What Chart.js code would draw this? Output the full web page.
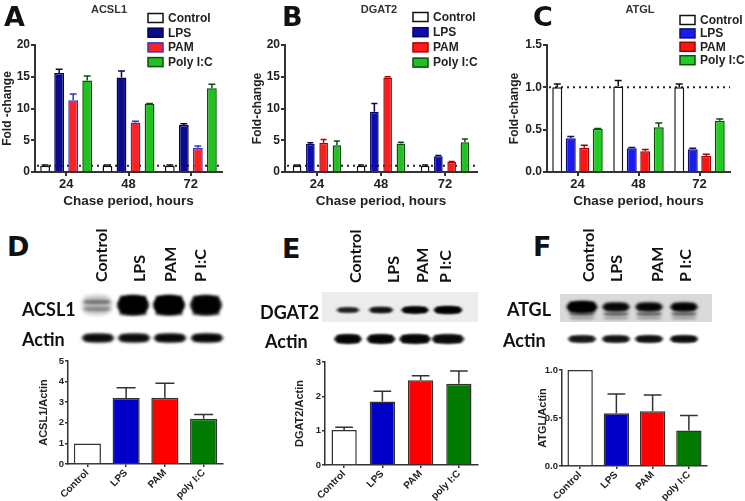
<!DOCTYPE html>
<html>
<head>
<meta charset="utf-8">
<script src="https://cdn.jsdelivr.net/npm/chart.js@4.4.1/dist/chart.umd.min.js"></script>
<style>
  html, body { margin: 0; padding: 0; background: #fff; }
  #fig { position: relative; width: 745px; height: 501px; overflow: hidden; }
  #fig canvas { position: absolute; }
  .t { position: absolute; white-space: nowrap; line-height: 1; color: #111; }
  .letter { font: bold 27px "DejaVu Sans", sans-serif; }
  .head { font: bold 11px "Liberation Sans", Arial, sans-serif; color: #333; transform: translateX(-50%); }
  .blot { font: bold 18px Lato, sans-serif; }
  .lane { font: bold 16px Lato, sans-serif; transform-origin: 0 0; transform: rotate(-90deg); }
</style>
</head>
<body>
<div id="fig">
  <canvas id="blots" width="745" height="70" style="left:0;top:280px"></canvas>
  <canvas id="cA" width="245" height="210" style="left:0;top:0"></canvas>
  <canvas id="cB" width="250" height="210" style="left:245px;top:0"></canvas>
  <canvas id="cC" width="250" height="210" style="left:495px;top:0"></canvas>
  <canvas id="cD" width="245" height="151" style="left:0;top:350px"></canvas>
  <canvas id="cE" width="250" height="151" style="left:245px;top:350px"></canvas>
  <canvas id="cF" width="250" height="151" style="left:495px;top:350px"></canvas>

  <div class="t letter" style="left:4px;top:1px">A</div>
  <div class="t letter" style="left:282px;top:1px">B</div>
  <div class="t letter" style="left:533px;top:1px">C</div>
  <div class="t letter" style="left:7px;top:231px">D</div>
  <div class="t letter" style="left:282px;top:233px">E</div>
  <div class="t letter" style="left:533px;top:231px">F</div>

  <div class="t head" style="left:109px;top:3px">ACSL1</div>
  <div class="t head" style="left:379px;top:3px">DGAT2</div>
  <div class="t head" style="left:640px;top:3px">ATGL</div>

  <div class="t blot" style="left:22px;top:298px">ACSL1</div>
  <div class="t blot" style="left:22px;top:328px">Actin</div>
  <div class="t blot" style="left:260px;top:301px">DGAT2</div>
  <div class="t blot" style="left:265px;top:330px">Actin</div>
  <div class="t blot" style="left:507px;top:298px">ATGL</div>
  <div class="t blot" style="left:503px;top:329px">Actin</div>

  <div class="t lane" style="left:91px;top:282px">Control</div>
  <div class="t lane" style="left:129px;top:282px">LPS</div>
  <div class="t lane" style="left:160px;top:282px">PAM</div>
  <div class="t lane" style="left:190px;top:282px">P I:C</div>
  <div class="t lane" style="left:345px;top:283px">Control</div>
  <div class="t lane" style="left:383px;top:283px">LPS</div>
  <div class="t lane" style="left:412px;top:283px">PAM</div>
  <div class="t lane" style="left:435px;top:283px">P I:C</div>
  <div class="t lane" style="left:578px;top:282px">Control</div>
  <div class="t lane" style="left:606px;top:282px">LPS</div>
  <div class="t lane" style="left:647px;top:282px">PAM</div>
  <div class="t lane" style="left:675px;top:282px">P I:C</div>
</div>

<script>
// ---- data ----
const chaseHours = ['24', '48', '72'];
const treatments = ['Control', 'LPS', 'PAM', 'Poly I:C'];

// one row per treatment, one value per chase time
const acsl1Fold = [[1.0, 1.0, 1.0], [15.6, 14.9, 7.4], [11.3, 7.8, 3.8], [14.4, 10.7, 13.2]];
const acsl1FoldErr = [[0.1, 0.1, 0.1], [0.6, 1.0, 0.2], [1.0, 0.2, 0.3], [0.7, 0.1, 0.6]];
const dgat2Fold = [[1.0, 1.0, 1.0], [4.4, 9.5, 2.5], [4.6, 14.9, 1.6], [4.2, 4.5, 4.7]];
const dgat2FoldErr = [[0.1, 0.1, 0.1], [0.2, 1.3, 0.1], [0.5, 0.1, 0.05], [0.7, 0.2, 0.5]];
const atglFold = [[1.0, 1.01, 1.0], [0.40, 0.28, 0.27], [0.285, 0.245, 0.19], [0.51, 0.53, 0.605]];
const atglFoldErr = [[0.04, 0.07, 0.04], [0.02, 0.01, 0.01], [0.03, 0.02, 0.02], [0.005, 0.05, 0.02]];

const blotGroups = ['Control', 'LPS', 'PAM', 'poly I:C'];
const acsl1Ratio = [1.0, 3.2, 3.22, 2.2];
const acsl1RatioErr = [0, 0.5, 0.7, 0.2];
const dgat2Ratio = [1.02, 1.85, 2.47, 2.37];
const dgat2RatioErr = [0.08, 0.3, 0.13, 0.37];
const atglRatio = [1.0, 0.55, 0.57, 0.37];
const atglRatioErr = [0, 0.2, 0.17, 0.155];

// band darkness per lane (Control, LPS, PAM, P I:C)
const acsl1Band = [0.35, 0.97, 1.0, 0.9];
const acsl1Actin = [0.8, 0.8, 0.85, 0.85];
const dgat2Band = [0.65, 0.75, 0.95, 0.95];
const dgat2Actin = [0.85, 0.85, 0.85, 0.8];
const atglBand = [1.0, 0.85, 0.85, 0.9];
const atglActin = [0.7, 0.72, 0.75, 0.78];

// ---- chart helpers ----
const FONT = '"Liberation Sans", Arial, sans-serif';
const INK = '#222';
Chart.defaults.font.family = FONT;
Chart.defaults.color = INK;

const errBars = {
  id: 'errBars',
  afterDatasetsDraw(chart) {
    const ctx = chart.ctx;
    const y = chart.scales.y;
    chart.data.datasets.forEach((ds, di) => {
      if (!ds.errs) return;
      chart.getDatasetMeta(di).data.forEach((bar, i) => {
        const e = ds.errs[i];
        if (!e) return;
        const top = y.getPixelForValue(ds.data[i] + e);
        const half = bar.width * 0.35;
        const col = Array.isArray(ds.borderColor) ? ds.borderColor[i] : ds.borderColor;
        ctx.save();
        ctx.strokeStyle = col;
        ctx.lineWidth = 1.5;
        ctx.beginPath();
        ctx.moveTo(bar.x, bar.y);
        ctx.lineTo(bar.x, top);
        ctx.moveTo(bar.x - half, top);
        ctx.lineTo(bar.x + half, top);
        ctx.stroke();
        ctx.restore();
      });
    });
  }
};

const refLine = {
  id: 'refLine',
  beforeDatasetsDraw(chart, args, opts) {
    if (opts.value == null) return;
    const { ctx, chartArea } = chart;
    const py = chart.scales.y.getPixelForValue(opts.value);
    ctx.save();
    ctx.strokeStyle = INK;
    ctx.lineWidth = 2;
    ctx.setLineDash([2, 4]);
    ctx.beginPath();
    ctx.moveTo(chartArea.left + 2, py);
    ctx.lineTo(chartArea.right, py);
    ctx.stroke();
    ctx.restore();
  }
};

const boxLegend = {
  id: 'boxLegend',
  afterDraw(chart, args, opts) {
    if (opts.x == null) return;
    const ctx = chart.ctx;
    ctx.save();
    chart.data.datasets.forEach((ds, i) => {
      const y = opts.y + i * opts.pitch;
      ctx.fillStyle = ds.backgroundColor;
      ctx.fillRect(opts.x, y - 4.5, 15, 9);
      ctx.strokeStyle = ds.borderColor;
      ctx.lineWidth = 1.5;
      ctx.strokeRect(opts.x, y - 4.5, 15, 9);
      ctx.fillStyle = INK;
      ctx.font = 'bold 12px ' + FONT;
      ctx.textBaseline = 'middle';
      ctx.fillText(ds.label, opts.x + 20, y + 0.5);
    });
    ctx.restore();
  }
};

function axisX(o) {
  return {
    border: { color: '#333', width: o.lw },
    grid: { drawOnChartArea: false, offset: false, tickLength: o.tick || 4, color: '#333', lineWidth: o.lw },
    ticks: {
      color: INK, padding: o.tickPad != null ? o.tickPad : 1, autoSkip: false,
      minRotation: o.rot || 0, maxRotation: o.rot || 0,
      font: { size: o.tickSize, weight: 'bold' }
    },
    title: o.title ? {
      display: true, text: o.title, color: INK, padding: { top: 0, bottom: 1 },
      font: { size: 13.5, weight: 'bold' }
    } : { display: false },
    afterFit: s => { s.height = o.height; }
  };
}

function axisY(o) {
  return {
    min: 0, max: o.max,
    border: { color: '#333', width: o.lw },
    grid: { drawOnChartArea: false, tickLength: o.tick || 4, color: '#333', lineWidth: o.lw },
    ticks: {
      color: INK, padding: 1, stepSize: o.step,
      font: { size: o.tickSize, weight: 'bold' },
      callback: v => o.fixed ? v.toFixed(o.fixed) : v
    },
    title: {
      display: true, text: o.title, color: INK, padding: 0,
      font: { size: o.titleSize, weight: 'bold' }
    },
    afterFit: s => { s.width = o.width; }
  };
}

function foldChart(id, means, errs, o) {
  return new Chart(document.getElementById(id), {
    type: 'bar',
    data: {
      labels: chaseHours,
      datasets: treatments.map((t, i) => ({
        label: t,
        data: means[i],
        errs: errs[i],
        backgroundColor: o.fills[i],
        borderColor: o.borders[i],
        borderWidth: 1.5,
        barPercentage: o.barPct,
        categoryPercentage: o.catPct
      }))
    },
    options: {
      responsive: false,
      animation: false,
      events: [],
      layout: { padding: o.pad },
      plugins: {
        legend: { display: false },
        tooltip: { enabled: false },
        refLine: { value: 1 },
        boxLegend: o.legend
      },
      scales: {
        x: axisX({ lw: 2, tickSize: 13, title: 'Chase period, hours', height: 38 }),
        y: axisY({ lw: 2, max: o.max, step: o.step, fixed: o.fixed, tickSize: 12,
                   title: o.yTitle, titleSize: 12, width: o.yWidth })
      }
    },
    plugins: [errBars, refLine, boxLegend]
  });
}

function ratioChart(id, values, errs, o) {
  return new Chart(document.getElementById(id), {
    type: 'bar',
    data: {
      labels: blotGroups,
      datasets: [{
        data: values,
        errs: errs,
        backgroundColor: ['#ffffff', '#0000c8', '#ff0000', '#007a00'],
        borderColor: '#333',
        borderWidth: 1.5,
        barPercentage: o.barPct,
        categoryPercentage: 1
      }]
    },
    options: {
      responsive: false,
      animation: false,
      events: [],
      layout: { padding: o.pad },
      plugins: { legend: { display: false }, tooltip: { enabled: false } },
      scales: {
        x: axisX({ lw: 1.5, tick: 3, tickPad: 0, tickSize: 10, rot: 45, height: o.xHeight }),
        y: axisY({ lw: 1.5, tick: 3, max: o.max, step: o.step, fixed: o.fixed, tickSize: 9.5,
                   title: o.yTitle, titleSize: 11, width: o.yWidth })
      }
    },
    plugins: [errBars]
  });
}

// ---- top row: fold change over chase ----
foldChart('cA', acsl1Fold, acsl1FoldErr, {
  fills: ['#ffffff', '#0b0b8f', '#ff2222', '#1fc21f'],
  borders: ['#111111', '#05054a', '#3535c0', '#0e4d0e'],
  max: 20, step: 5, yTitle: 'Fold -change', yWidth: 35,
  pad: { left: 0, top: 45, right: 23, bottom: 0 },
  barPct: 0.7, catPct: 0.9,
  legend: { x: 148, y: 18, pitch: 14.7 }
});
foldChart('cB', dgat2Fold, dgat2FoldErr, {
  fills: ['#ffffff', '#0c0cb0', '#ff1c1c', '#22c022'],
  borders: ['#111111', '#050560', '#b00000', '#0e4d0e'],
  max: 20, step: 5, yTitle: 'Fold-change', yWidth: 35,
  pad: { left: 5, top: 45, right: 18, bottom: 0 },
  barPct: 0.65, catPct: 0.83,
  legend: { x: 168, y: 17, pitch: 15.2 }
});
foldChart('cC', atglFold, atglFoldErr, {
  fills: ['#ffffff', '#1c1cf0', '#ff1414', '#22cc22'],
  borders: ['#111111', '#101070', '#a00000', '#0e4d0e'],
  max: 1.5, step: 0.5, fixed: 1, yTitle: 'Fold-change', yWidth: 40,
  pad: { left: 12, top: 45, right: 15, bottom: 0 },
  barPct: 0.74, catPct: 0.885,
  legend: { x: 185, y: 20, pitch: 13.4 }
});

// ---- bottom row: blot quantification ----
ratioChart('cD', acsl1Ratio, acsl1RatioErr, {
  max: 5, step: 1, yTitle: 'ACSL1/Actin', yWidth: 31, xHeight: 37,
  pad: { left: 37, top: 11, right: 22, bottom: 0 }, barPct: 0.7
});
ratioChart('cE', dgat2Ratio, dgat2RatioErr, {
  max: 3, step: 1, yTitle: 'DGAT2/Actin', yWidth: 32, xHeight: 36,
  pad: { left: 48, top: 12, right: 17, bottom: 0 }, barPct: 0.66
});
ratioChart('cF', atglRatio, atglRatioErr, {
  max: 1, step: 0.5, fixed: 1, yTitle: 'ATGL/Actin', yWidth: 26, xHeight: 35,
  pad: { left: 41, top: 20, right: 38, bottom: 0 }, barPct: 0.7
});

// ---- western blot strips (plain canvas, y is page y - 280) ----
(function drawBlots() {
  const ctx = document.getElementById('blots').getContext('2d');
  function band(cx, cy, w, h, dark, blur) {
    ctx.save();
    ctx.filter = 'blur(' + blur + 'px)';
    ctx.fillStyle = 'rgba(0,0,0,' + dark + ')';
    ctx.beginPath();
    ctx.ellipse(cx, cy, w / 2, h / 2, 0, 0, Math.PI * 2);
    ctx.fill();
    ctx.fillRect(cx - w / 2 + 3, cy - h / 2 + 1, w - 6, h - 2);
    ctx.restore();
  }
  // backgrounds
  ctx.fillStyle = '#ececec';
  ctx.fillRect(322, 12, 156, 30);
  ctx.fillStyle = '#dadada';
  ctx.fillRect(560, 14, 152, 28);

  // D: ACSL1
  const dLanes = [97, 133, 169, 206];
  dLanes.forEach((x, i) => {
    if (i === 0) {
      band(x, 25, 32, 20, 0.14, 2.2);
      band(x, 22, 30, 4, 0.3, 1.5);
      band(x, 29, 30, 4, 0.22, 1.5);
    } else {
      band(x, 25, 32, 20, acsl1Band[i], 1.5);
      band(x, 34, 30, 4, 0.25, 1.5);
    }
    band(x + 1, 58, 33, 9, acsl1Actin[i], 1.4);
  });
  // E: DGAT2
  const eLanes = [348, 381, 415, 448];
  const eW = [24, 25, 28, 29];
  eLanes.forEach((x, i) => {
    band(x, 30, eW[i], 6 + i * 0.7, dgat2Band[i], 1.2);
    band(x, 59, eW[i] + 4, 10, dgat2Actin[i], 1.3);
  });
  // F: ATGL
  const fLanes = [582, 616, 649, 684];
  fLanes.forEach((x, i) => {
    band(x, 27, i === 0 ? 31 : 28, i === 0 ? 12 : 9, atglBand[i], 1.4);
    band(x, 34, 28, 4, 0.35, 1.2);
    band(x, 38, 28, 4, 0.15, 1.2);
    band(x, 59, 29, 8, atglActin[i], 1.3);
  });
})();
</script>
</body>
</html>
